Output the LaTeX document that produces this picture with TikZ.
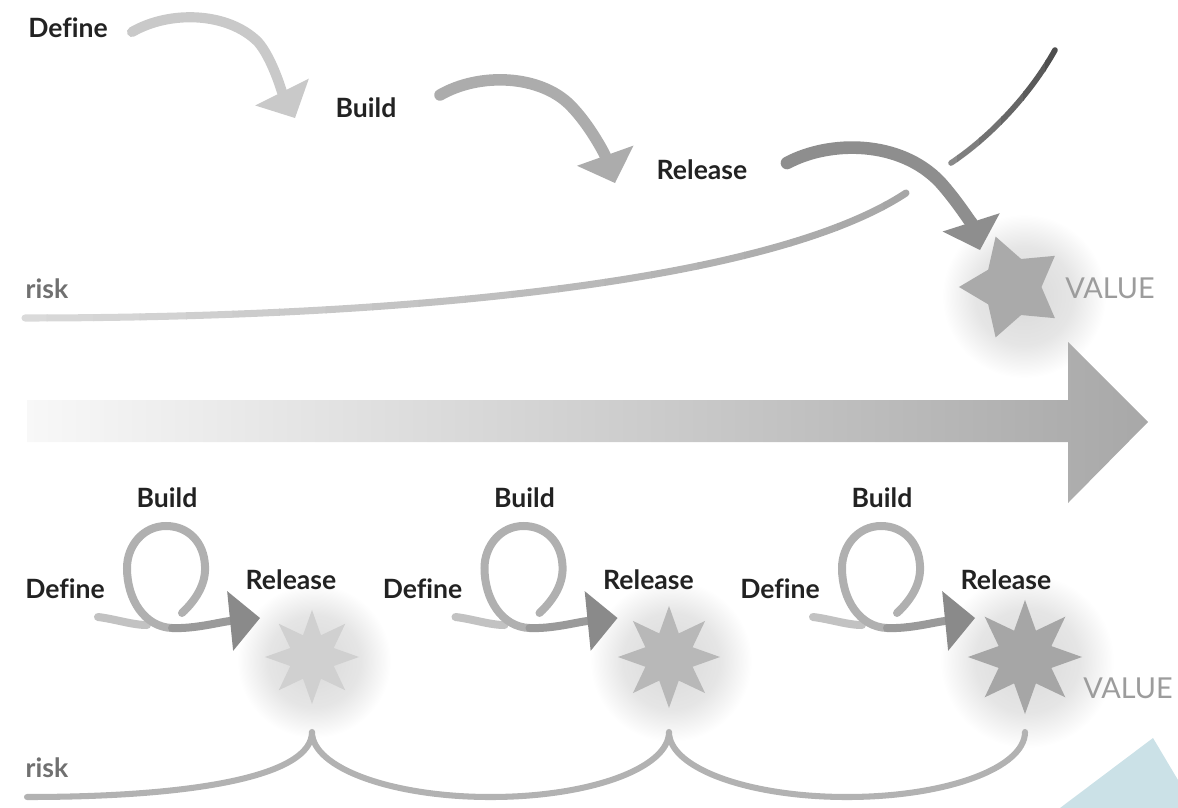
\documentclass[tikz,border=0pt]{standalone}
\usepackage{fontspec}
\setmainfont[Ligatures=NoCommon]{Lato}
\usetikzlibrary{arrows.meta,shapes.geometric}
\definecolor{labelc}{HTML}{222222}
\definecolor{riskc}{HTML}{707070}
\definecolor{valc}{HTML}{9C9C9C}
\definecolor{arrA}{HTML}{C9C9C9}
\definecolor{arrB}{HTML}{ACACAC}
\definecolor{arrC}{HTML}{8E8E8E}
\definecolor{riskL}{HTML}{DADADA}
\definecolor{riskM}{HTML}{A6A6A6}
\definecolor{riskDa}{HTML}{8A8A8A}
\definecolor{riskDb}{HTML}{4E4E4E}
\definecolor{bigL}{HTML}{F8F8F8}
\definecolor{bigR}{HTML}{A8A8A8}
\definecolor{starTop}{HTML}{AAAAAA}
\definecolor{starA}{HTML}{D0D0D0}
\definecolor{starB}{HTML}{B8B8B8}
\definecolor{starC}{HTML}{A6A6A6}
\definecolor{tailc}{HTML}{C2C2C2}
\definecolor{loopc}{HTML}{B0B0B0}
\definecolor{outc}{HTML}{9A9A9A}
\definecolor{headc}{HTML}{8A8A8A}
\definecolor{botrisk}{HTML}{B2B2B2}
\definecolor{corner}{HTML}{CBE1E7}
\pgfdeclareradialshading{glow}{\pgfpoint{0bp}{0bp}}{color(0bp)=(black!15); color(15bp)=(black!10); color(25bp)=(white); color(50bp)=(white)}
\begin{document}
\begin{tikzpicture}[x=0.025cm, y=-0.025cm,
  lbl/.style={inner sep=0pt, text=labelc, font=\fontsize{18.9pt}{22pt}\selectfont\bfseries},
  risklbl/.style={inner sep=0pt, text=riskc, font=\fontsize{18.9pt}{22pt}\selectfont\bfseries},
  vallbl/.style={inner sep=0pt, text=valc, font=\fontsize{20.5pt}{24pt}\selectfont},
  bigarc/.style={line cap=round},
  looparc/.style={line width=5.7pt, line cap=round},
  riskline/.style={line width=5pt, line cap=round},
  tipbig/.style={-{Triangle[length=0.725cm,width=1.5cm,line width=0pt]}},
  valuestar/.style={star, inner sep=0pt, draw=none}]
\useasboundingbox (0,0) rectangle (1178,808);

% glows behind the stars
\shade[shading=glow] (1024,296) circle[radius=82];
\foreach \i/\sx/\sr in {0/312/47,1/669/51,2/1025/57}{
  \shade[shading=glow] (\sx+2,661) circle[radius={\sr+30}];
}

% top risk curve (gradient by strips)
\coordinate (rs) at (25,318);
\coordinate (re) at (906,193);
\coordinate (rds) at (951,163);
\coordinate (rde) at (1055,50);
\foreach \k in {0,...,19}{
  \pgfmathsetmacro{\xa}{\k*46.5}
  \pgfmathsetmacro{\pc}{100-\k*100/19}
  \begin{scope}
    \clip (\xa,0) rectangle ++(47.5,808);
    \draw[riskline, color=riskL!\pc!riskM] (rs) .. controls (400,318) and (770,283) .. (re);
  \end{scope}
}
\foreach \k in {0,...,5}{
  \pgfmathsetmacro{\xa}{935+\k*22}
  \pgfmathsetmacro{\pc}{100-\k*20}
  \begin{scope}
    \clip (\xa,0) rectangle ++(23,808);
    \draw[riskline, line width=4pt, color=riskDa!\pc!riskDb] (rds) .. controls (990,137) and (1030,95) .. (rde);
  \end{scope}
}

% big horizontal arrow
\shade[left color=bigL, right color=bigR] (27,400) -- (1068,400) -- (1068,342) -- (1148,422) -- (1068,503) -- (1068,442) -- (27,442) -- cycle;

% top labels
\node[lbl] (tdef) at (68,28) {Define};
\node[lbl] (tbld) at (366,108) {Build};
\node[lbl] (trel) at (702,170) {Release};
\node[risklbl] (trisk) at (47,289) {risk};
\node[vallbl] (tval) at (1110,288) {VALUE};

% top arrows
\coordinate (a1s) at (132,32);  \coordinate (a1e) at (295,118);
\coordinate (a2s) at (440,95);  \coordinate (a2e) at (615,183);
\coordinate (a3s) at (787,163); \coordinate (a3e) at (980,250);
\draw[bigarc, line width=7.2pt, arrA, tipbig] (a1s) .. controls (170,10) and (228,12) .. (258,42) .. controls (272,58) and (282,92) .. (a1e);
\draw[bigarc, line width=8.2pt, arrB, tipbig] (a2s) .. controls (480,72) and (540,75) .. (570,105) .. controls (590,125) and (605,155) .. (a2e);
\draw[bigarc, line width=9pt, arrC, tipbig] (a3s) .. controls (830,140) and (900,140) .. (940,182) .. controls (958,202) and (972,225) .. (a3e);

% top star
\node[valuestar, star points=5, star point ratio=1.8, shape border rotate=90, minimum size=2.65cm, fill=starTop] (tstar) at (1012,287) {};

% bottom groups
\foreach \i/\sx/\sr/\sc in {0/312/47/starA,1/669/51/starB,2/1025/57/starC}{
  \node[valuestar, star points=8, star point ratio=2, minimum size={\sr*0.05cm}, fill=\sc] (st\i) at (\sx,657) {};
  \begin{scope}[shift={(\i*357.5,0)}]
    \node[lbl] (d\i) at (65,589) {Define};
    \node[lbl] (b\i) at (167,498) {Build};
    \node[lbl] (r\i) at (291,580) {Release};
    \coordinate (ts\i) at (98,617);
    \coordinate (te\i) at (147,625);
    \coordinate (ls\i) at (182,613);
    \coordinate (lm\i) at (172,628);
    \coordinate (le\i) at (260,618);
    \draw[looparc, tailc] (ts\i) .. controls (115,619) and (132,625) .. (te\i);
    \draw[looparc, loopc] (ls\i) .. controls (198,598) and (206,582) .. (205,566)
       .. controls (204,542) and (188,526) .. (166,526)
       .. controls (143,526) and (127,546) .. (127,568)
       .. controls (127,600) and (145,627) .. (lm\i);
    \draw[looparc, outc, -{Triangle[length=0.75cm,width=1.5cm,line width=0pt,color=headc]}] (lm\i) .. controls (195,629) and (220,622) .. (le\i);
  \end{scope}
}

% bottom risk curve
\draw[line width=4.3pt, line cap=round, line join=round, botrisk] (27,797) .. controls (200,797) and (312,775) .. (312,732)
  .. controls (312,768) and (392,797) .. (490.5,797)
  .. controls (590,797) and (669,768) .. (669,732)
  .. controls (669,768) and (748,797) .. (847,797)
  .. controls (946,797) and (1025,768) .. (1025,732);

\node[risklbl] (brisk) at (47,768) {risk};
\node[vallbl] (bval) at (1128,688) {VALUE};

% corner triangle
\fill[corner] (1060,808) -- (1153,738) -- (1178,780) -- (1178,808) -- cycle;
\end{tikzpicture}
\end{document}
